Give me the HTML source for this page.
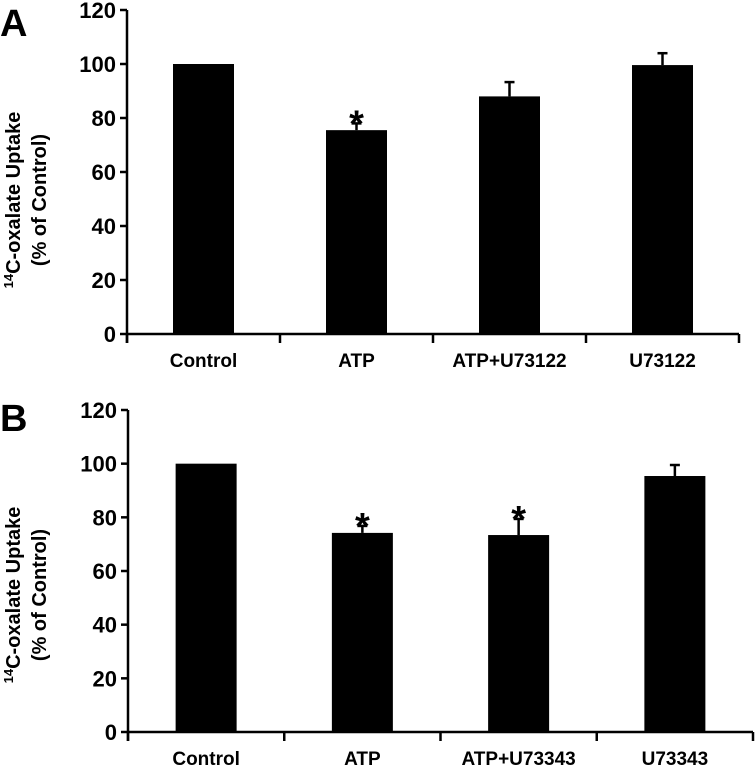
<!DOCTYPE html>
<html><head><meta charset="utf-8"><style>
body{margin:0;background:#fff;}
svg{display:block;font-family:"Liberation Sans",Arial,sans-serif;font-weight:bold;}
</style></head><body>
<svg id="fig" width="755" height="770" viewBox="0 0 755 770"></svg>
<script>
const categoriesA = ["Control","ATP","ATP+U73122","U73122"];
const valuesA = [100, 75.5, 88, 99.6];
const errorsA = [0, 2.5, 5.3, 4.4];
const starsA = [false, true, false, false];
const categoriesB = ["Control","ATP","ATP+U73343","U73343"];
const valuesB = [100, 74.2, 73.4, 95.4];
const errorsB = [0, 2.6, 6, 4.1];
const starsB = [false, true, true, false];
const yTicks = [0,20,40,60,80,100,120];

const NS="http://www.w3.org/2000/svg";
const svg=document.getElementById('fig');
function mk(tag,attrs,parent){const e=document.createElementNS(NS,tag);for(const k in attrs)e.setAttribute(k,attrs[k]);(parent||svg).appendChild(e);return e;}

function panel(cfg,cats,vals,errs,stars,letter,key){
  const g=mk('g',{});
  
  
  const y=v=>cfg.y0-(v/120)*(cfg.y0-cfg.y120);
  const cw=(cfg.x1-cfg.x0)/cats.length;
  const xc=i=>cfg.x0+cw*(i+0.5);
  const L=mk('text',{x:0,y:cfg.letterY,'font-size':38},g);L.textContent=letter;
  
  
  const ya=mk('line',{x1:cfg.x0,y1:cfg.y120,x2:cfg.x0,y2:cfg.y0+9,stroke:'#000','stroke-width':2.5},g);
  
  
  const xa=mk('line',{x1:cfg.x0,y1:cfg.y0,x2:cfg.x1,y2:cfg.y0,stroke:'#000','stroke-width':2.5},g);
  
  
  yTicks.forEach(t=>{
    mk('line',{x1:cfg.x0-7,y1:y(t),x2:cfg.x0,y2:y(t),stroke:'#000','stroke-width':2.5},g);
    const tl=mk('text',{x:cfg.x0-11,y:y(t)+8,'text-anchor':'end','font-size':22},g);tl.textContent=t;
    
    
  });
  for(let i=0;i<=cats.length;i++){
    const xx=cfg.x0+cw*i;
    mk('line',{x1:xx,y1:cfg.y0,x2:xx,y2:cfg.y0+9,stroke:'#000','stroke-width':2.5},g);
  }
  const bw=61;
  cats.forEach((c,i)=>{
    const top=y(vals[i]);
    if(errs[i]>0){
      const et=y(vals[i]+errs[i]);
      mk('line',{x1:xc(i),y1:et,x2:xc(i),y2:top,stroke:'#000','stroke-width':2.5},g);
      mk('line',{x1:xc(i)-5,y1:et,x2:xc(i)+5,y2:et,stroke:'#000','stroke-width':2.5},g);
    }
    const r=mk('rect',{x:xc(i)-bw/2,y:top,width:bw,height:cfg.y0-top,fill:'#000'},g);
    
    
    if(stars[i]){
      const s=mk('text',{x:xc(i),y:y(vals[i]+errs[i])+13,'text-anchor':'middle','font-size':38},g);s.textContent='*';
      
      
    }
    const cl=mk('text',{x:xc(i),y:cfg.y0+33,'text-anchor':'middle','font-size':19},g);cl.textContent=c;
    
    
  });
  const cy=cfg.titleY;
  const t1=mk('text',{x:20,y:cy,'text-anchor':'middle','font-size':20,transform:`rotate(-90 20 ${cy})`},g);
  t1.innerHTML='<tspan font-size="13" dy="-7">14</tspan><tspan dy="7">C-oxalate Uptake</tspan>';
  
  
  const t2=mk('text',{x:46,y:cy,'text-anchor':'middle','font-size':20,transform:`rotate(-90 46 ${cy})`},g);
  t2.textContent='(% of Control)';
  
  
}
panel({x0:127,x1:739,y0:334,y120:10,letterY:36,titleY:200},categoriesA,valuesA,errorsA,starsA,'A','a');
panel({x0:128,x1:753,y0:732,y120:410,letterY:431,titleY:595},categoriesB,valuesB,errorsB,starsB,'B','b');
</script>
</body></html>
